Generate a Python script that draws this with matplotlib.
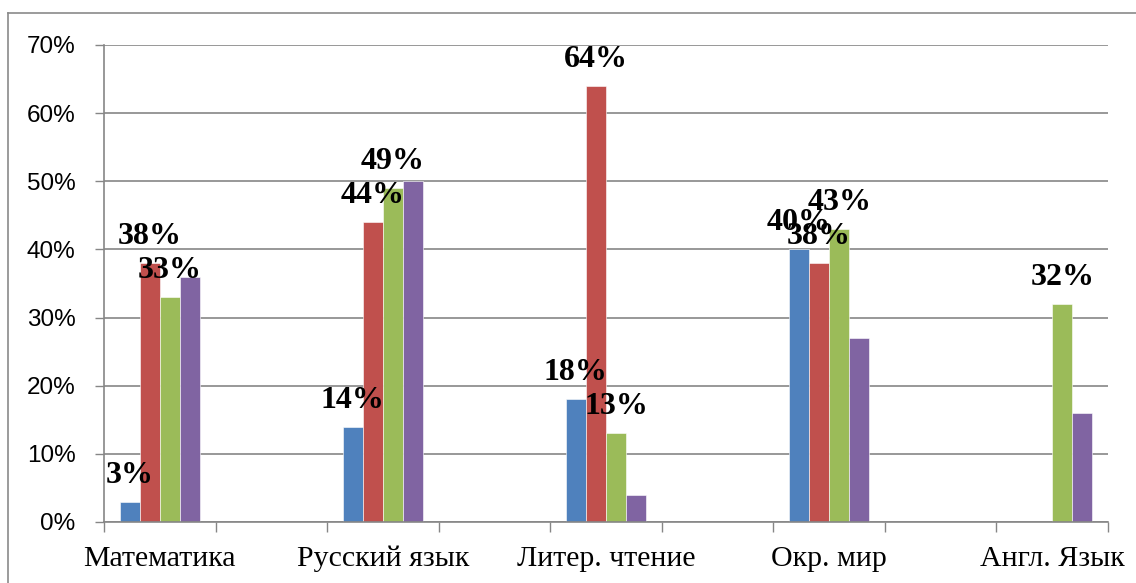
import numpy as np
import matplotlib.pyplot as plt
from matplotlib.lines import Line2D

categories = ['Математика', 'Русский язык', 'Литер. чтение', 'Окр. мир', 'Англ. Язык']
s1 = [3, 14, 18, 40, np.nan]
s2 = [38, 44, 64, 38, np.nan]
s3 = [33, 49, 13, 43, 32]
s4 = [36, 50, 4, 27, 16]
yticks = [0, 10, 20, 30, 40, 50, 60, 70]

colors = ['#4F81BD', '#C0504D', '#9BBB59', '#8064A2']
grey = '#868686'

fig = plt.figure(figsize=(11.36, 5.83), dpi=100)
ax = fig.add_axes([104/1136, 61/583, (1108-104)/1136, (522-45)/583])

# categories sit on every other slot (blank slots between them)
x = np.arange(len(categories)) * 2
w = 0.18
series = [s1, s2, s3, s4]
for i, (vals, c) in enumerate(zip(series, colors)):
    xs = x + (i - 1.5) * w
    ax.bar(xs, vals, width=w, color=c, edgecolor='white', linewidth=0.4, zorder=2)
    if i < 3:
        for xx, v in zip(xs, vals):
            if np.isnan(v):
                continue
            ax.annotate(f'{v:g}%', (xx, v), xytext=(0, 19), textcoords='offset pixels',
                        ha='center', va='baseline', fontsize=23, fontweight='bold',
                        family='Liberation Serif', zorder=5, annotation_clip=False)

ax.set_xlim(-0.5, 8.5)
ax.set_ylim(0, 70)
ax.set_yticks(yticks)
ax.set_yticklabels([f'{t}%' for t in yticks], family='Liberation Sans', fontsize=17.5)
ax.set_xticks(x)
ax.set_xticklabels(categories, family='Liberation Serif', fontsize=21.5)
ax.set_xticks(np.arange(-0.5, 9, 1), minor=True)
ax.tick_params(axis='x', which='major', length=0, pad=17)
ax.tick_params(axis='x', which='minor', length=7, color=grey, width=1)
ax.tick_params(axis='y', length=6.5, color=grey, width=1, pad=14)

ax.yaxis.grid(True, color=grey, linewidth=1.2, zorder=0)
ax.set_axisbelow(True)
for s in ['top', 'right']:
    ax.spines[s].set_visible(False)
for s in ['left', 'bottom']:
    ax.spines[s].set_color(grey)
    ax.spines[s].set_linewidth(1.2)

# outer chart frame
fig.add_artist(Line2D([8/1136, 1.01], [1 - 13/583] * 2, color='#8a8a8a', lw=1.2))
fig.add_artist(Line2D([8/1136] * 2, [-0.01, 1 - 13/583], color='#8a8a8a', lw=1.2))

fig.savefig('out.png', dpi=100)
